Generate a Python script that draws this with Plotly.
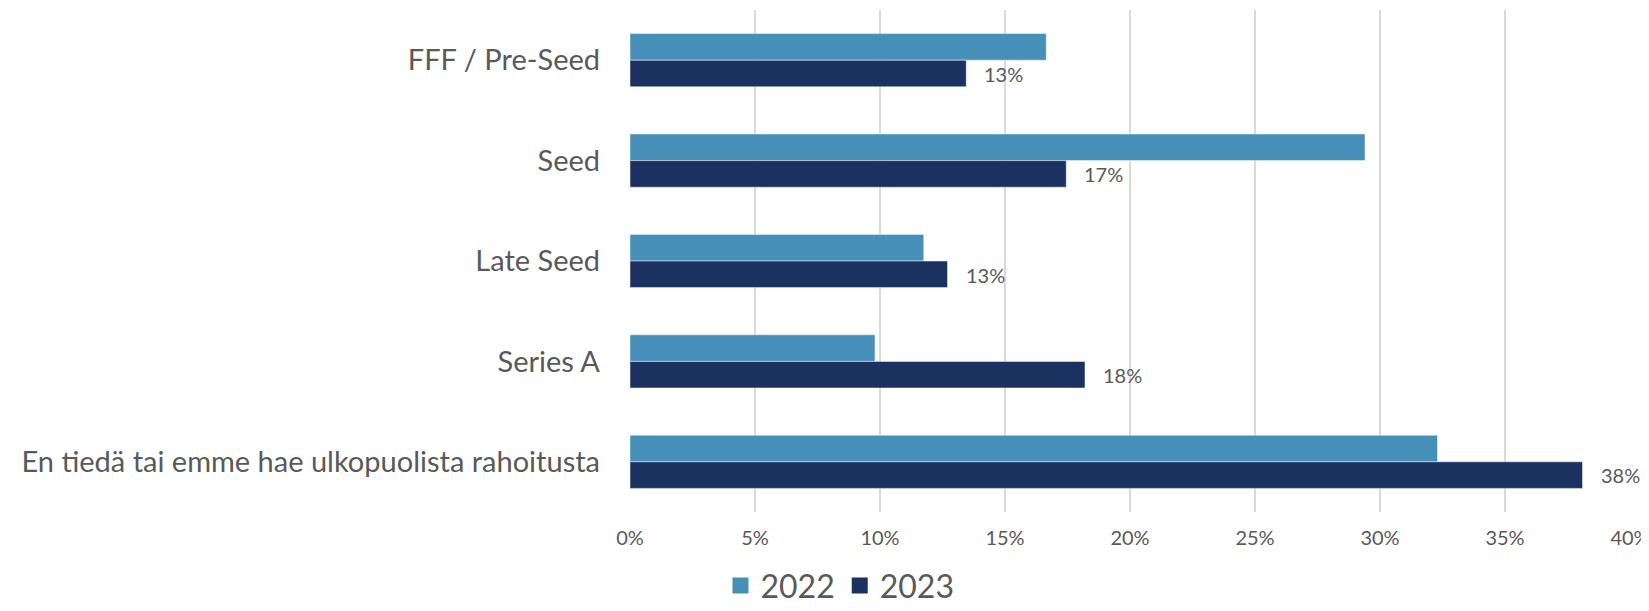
import plotly.graph_objects as go

categories = ["FFF / Pre-Seed", "Seed", "Late Seed", "Series A",
              "En tiedä tai emme hae ulkopuolista rahoitusta"]
values_2022 = [16.65, 29.4, 11.75, 9.8, 32.3]
values_2023 = [13.45, 17.45, 12.7, 18.2, 38.1]
series_names = ["2022", "2023"]
x_ticks = [0, 5, 10, 15, 20, 25, 30, 35, 40]
x_tick_labels = ["0%", "5%", "10%", "15%", "20%", "25%", "30%", "35%", "40%"]

col_2022 = "#468FB8"
col_2023 = "#1B3260"
text_col = "#595959"
font_family = "Lato, 'Open Sans', sans-serif"

fig = go.Figure()
for name, vals, col in [(series_names[0], values_2022, col_2022),
                        (series_names[1], values_2023, col_2023)]:
    fig.add_trace(go.Bar(
        y=categories, x=vals, name=name, orientation="h",
        marker=dict(color=col, line=dict(color="rgba(255,255,255,0.6)", width=0.8)),
        showlegend=False, legendgroup=name,
    ))
# legend entries with larger square swatches
for name, col in [(series_names[0], col_2022), (series_names[1], col_2023)]:
    fig.add_trace(go.Scatter(
        x=[None], y=[None], mode="markers", name=name, legendgroup=name,
        marker=dict(symbol="square", size=20, color=col),
        showlegend=True,
    ))

annotations = []
for i, v in enumerate(values_2023):
    annotations.append(dict(
        x=v, y=i + 0.135, xref="x", yref="y",
        text=f"{round(v)}%", showarrow=False,
        xanchor="left", yanchor="middle", xshift=16,
        font=dict(family=font_family, size=20, color=text_col),
    ))

# page body has an 8px margin, so the figure is 8px smaller than the window
fig.update_layout(
    width=1641, height=603,
    paper_bgcolor="white", plot_bgcolor="white",
    margin=dict(l=622, r=19, t=2, b=99, autoexpand=False),
    barmode="group", bargap=0.47, bargroupgap=0,
    font=dict(family=font_family, color=text_col),
    showlegend=True,
    legend=dict(
        orientation="h", xref="container", yref="container",
        x=0.507, xanchor="center", y=0.042, yanchor="middle",
        font=dict(family=font_family, size=32, color=text_col),
        itemwidth=30, tracegroupgap=0,
    ),
    annotations=annotations,
)
fig.update_xaxes(
    range=[0, 40], tickvals=x_ticks, ticktext=x_tick_labels,
    showgrid=True, gridcolor="#D9D9D9", gridwidth=1.5,
    zeroline=False, showline=False, automargin=False,
    ticks="outside", ticklen=8, tickcolor="white",
    ticklabeloverflow="allow",
    tickfont=dict(family=font_family, size=20, color=text_col),
)
fig.update_yaxes(
    autorange="reversed", showgrid=False, showline=False, zeroline=False,
    ticks="", ticklabelstandoff=29, automargin=False,
    tickfont=dict(family=font_family, size=29, color=text_col),
)

fig.write_html("out.html")
